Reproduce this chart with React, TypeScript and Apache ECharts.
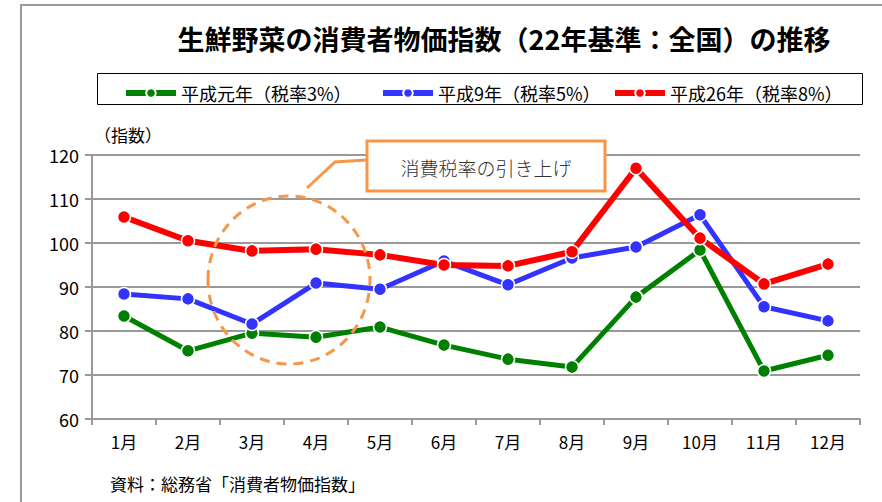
import React, { useEffect, useRef } from "react";
import * as echarts from "echarts";

const months = ["1月", "2月", "3月", "4月", "5月", "6月", "7月", "8月", "9月", "10月", "11月", "12月"];
const seriesNames = ["平成元年（税率3%）", "平成9年（税率5%）", "平成26年（税率8%）"];
const heisei1 = [83.4, 75.5, 79.5, 78.6, 80.9, 76.8, 73.6, 71.8, 87.7, 98.4, 70.9, 74.5];
const heisei9 = [88.4, 87.3, 81.6, 90.9, 89.5, 95.9, 90.5, 96.6, 99.1, 106.4, 85.5, 82.3];
const heisei26 = [105.9, 100.5, 98.2, 98.6, 97.3, 95.0, 94.8, 98.0, 117.0, 101.1, 90.7, 95.2];
const colors = ["#008000", "#3333FF", "#FF0000"];

const FONT = "'Noto Sans CJK JP', 'Noto Sans', sans-serif";

export default function App() {
  const ref = useRef<HTMLDivElement>(null);
  useEffect(() => {
    document.body.style.margin = "0";
    const chart = echarts.init(ref.current!, null, { renderer: "svg" });
    const mk = (name: string, data: number[], color: string, width: number) => ({
      name,
      type: "line",
      data,
      symbol: "circle",
      symbolSize: 13,
      lineStyle: { color, width },
      itemStyle: { color, borderColor: "#ffffff", borderWidth: 1.5 },
      z: 3,
    });
    const legendBase = {
      top: 79,
      itemWidth: 50,
      itemHeight: 12,
      itemGap: 6,
      lineStyle: { width: 6 },
      textStyle: { fontFamily: FONT, fontSize: 18, color: "#000" },
      selectedMode: false,
    };
    chart.setOption({
      animation: false,
      textStyle: { fontFamily: FONT },
      title: {
        text: "生鮮野菜の消費者物価指数（22年基準：全国）の推移",
        left: 499,
        textAlign: "center",
        top: 20,
        textStyle: { fontFamily: FONT, fontSize: 27, fontWeight: "bold", color: "#000" },
      },
      legend: [
        { ...legendBase, left: 118, data: [seriesNames[0]] },
        { ...legendBase, left: 375, data: [seriesNames[1]] },
        { ...legendBase, left: 607, data: [seriesNames[2]] },
      ],
      grid: { left: 92, right: 22, top: 155, bottom: 83 },
      xAxis: {
        type: "category",
        data: months,
        boundaryGap: true,
        axisLine: { lineStyle: { color: "#999", width: 2 } },
        axisTick: { show: true, length: 6, alignWithLabel: false, lineStyle: { color: "#999", width: 2 } },
        axisLabel: { color: "#000", fontSize: 17, margin: 14, fontFamily: FONT },
      },
      yAxis: {
        type: "value",
        min: 60,
        max: 120,
        interval: 10,
        axisLine: { show: true, lineStyle: { color: "#999", width: 2 } },
        axisTick: { show: true, length: 7, lineStyle: { color: "#999", width: 2 } },
        axisLabel: { color: "#000", fontSize: 18, margin: 13, fontFamily: FONT },
        splitLine: { lineStyle: { color: "#999", width: 2 } },
      },
      series: [
        mk(seriesNames[0], heisei1, colors[0], 5),
        mk(seriesNames[1], heisei9, colors[1], 5),
        mk(seriesNames[2], heisei26, colors[2], 6),
      ],
      graphic: [
        {
          type: "polyline",
          shape: { points: [[21, 502], [21, 5], [882, 5]] },
          style: { stroke: "#999", lineWidth: 2, fill: "none" },
          silent: true,
        },
        {
          type: "rect",
          shape: { x: 97.5, y: 73.5, width: 765, height: 31 },
          style: { stroke: "#000", lineWidth: 1, fill: "none" },
          silent: true,
        },
        {
          type: "text",
          left: 94,
          top: 126,
          style: { text: "（指数）", fontSize: 17, fontFamily: FONT, fill: "#000" },
          silent: true,
        },
        {
          type: "text",
          left: 110,
          top: 475,
          style: { text: "資料：総務省「消費者物価指数」", fontSize: 17, fontFamily: FONT, fill: "#000" },
          silent: true,
        },
        {
          type: "ellipse",
          shape: { cx: 289, cy: 280, rx: 81, ry: 84 },
          style: { stroke: "#F79646", lineWidth: 3, fill: "none", lineDash: [10, 7] },
          z: 10,
          silent: true,
        },
        {
          type: "polyline",
          shape: { points: [[366, 160], [335, 162], [307, 188]] },
          style: { stroke: "#F79646", lineWidth: 3, fill: "none" },
          z: 10,
          silent: true,
        },
        {
          type: "rect",
          shape: { x: 367, y: 141, width: 238, height: 50 },
          style: { stroke: "#F79646", lineWidth: 3, fill: "#ffffff" },
          z: 10,
          silent: true,
        },
        {
          type: "text",
          x: 486,
          y: 167,
          style: {
            text: "消費税率の引き上げ",
            fontSize: 19,
            fontFamily: "'Noto Sans CJK JP', serif",
            fontWeight: 300,
            fill: "#333",
            align: "center",
            verticalAlign: "middle",
          },
          z: 11,
          silent: true,
        },
      ],
    });
    return () => chart.dispose();
  }, []);
  return <div ref={ref} style={{ width: 882, height: 502 }} />;
}
